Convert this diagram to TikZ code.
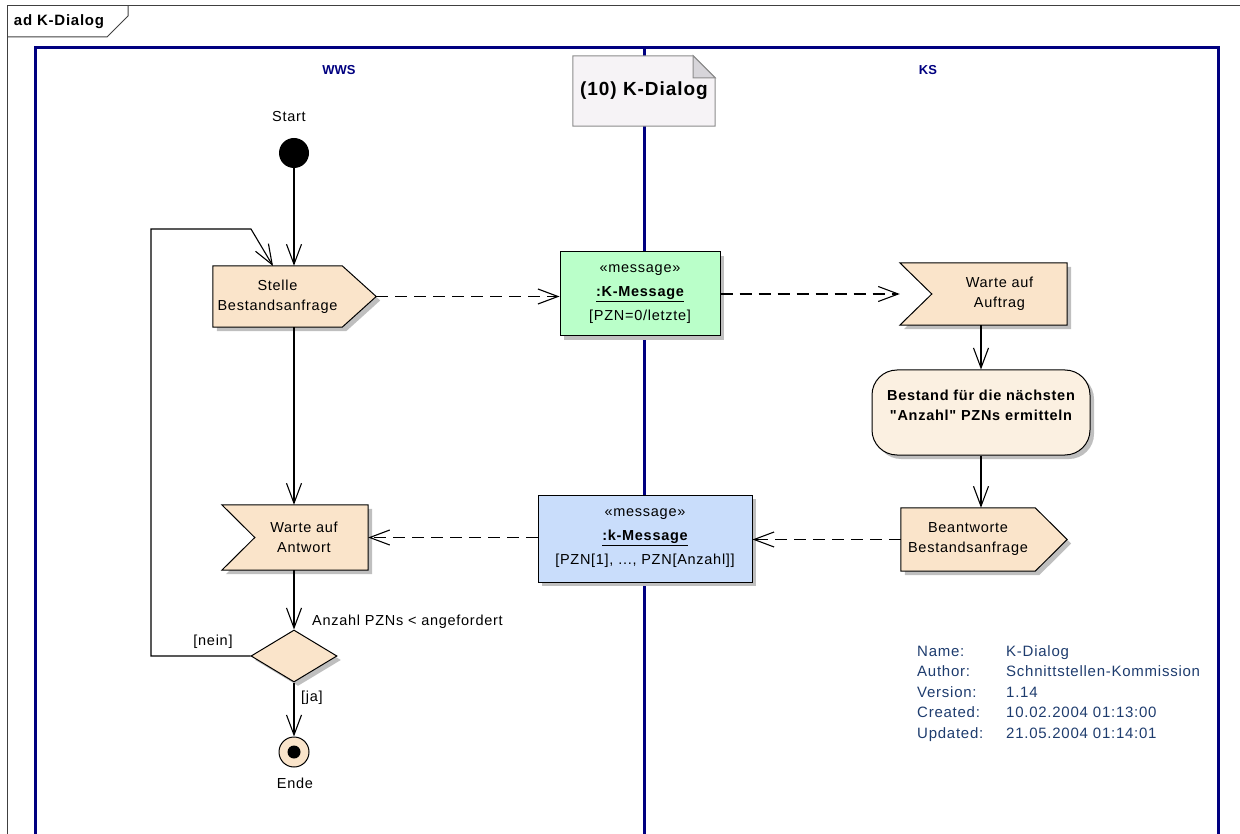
\documentclass[tikz,border=0pt]{standalone}
\usepackage{fontspec}
\setmainfont{Liberation Sans}
\newfontfamily\eafont[LetterSpace=5]{Liberation Sans}
\usetikzlibrary{arrows.meta,shadows,shapes.geometric}
\pgfdeclarelayer{lanes}
\pgfdeclarelayer{shapes}
\pgfsetlayers{lanes,shapes,main}
\definecolor{peach}{RGB}{250,228,202}
\definecolor{cream}{RGB}{251,240,225}
\definecolor{msggreen}{RGB}{186,255,201}
\definecolor{msgblue}{RGB}{201,221,251}
\definecolor{navy}{RGB}{0,0,128}
\definecolor{infoc}{RGB}{30,60,110}
\definecolor{notefill}{RGB}{246,243,246}
\definecolor{notefold}{RGB}{215,213,218}
\begin{document}
\begin{tikzpicture}[x=1pt,y=-1pt,
  txt/.style={font={\eafont\fontsize{14.5}{20}\selectfont}, align=center, inner sep=0pt},
  flow/.style={line width=1.1pt, -{Straight Barb[length=20pt,width=15pt]}},
  msgflow/.style={flow, dash pattern=on 12pt off 7pt},
  shd/.style={drop shadow={shadow xshift=4pt, shadow yshift=-4pt, fill=black!25, opacity=1}},
  actshape/.style={draw=black, line width=1pt, fill=peach, shd},
  msgbox/.style={txt, draw=black, line width=1pt, shd, font={\eafont\fontsize{14.5}{24}\selectfont}},
  lane/.style={draw=navy, line width=3pt},
  frame/.style={draw=black!75, line width=1pt},
  lanelbl/.style={font={\bfseries\fontsize{13}{13}\selectfont}, text=navy, inner sep=0pt}]
\useasboundingbox (0,0) rectangle (1240,834);

% outer frame
\draw[frame] (7,834) -- (7,6) -- (1240,6);
\draw[frame] (7,37) -- (107,37) -- (128,16) -- (128,6);
\node[font={\eafont\bfseries\fontsize{15}{15}\selectfont}, inner sep=0pt] (frametitle) at (59,22) {ad K-Dialog};

% swimlanes
\begin{pgfonlayer}{lanes}
\draw[lane] (35,834) -- (35,48) -- (1218,48) -- (1218,834);
\draw[lane] (644,48) -- (644,834);
\end{pgfonlayer}
\node[lanelbl] (wws) at (339,70) {WWS};
\node[lanelbl] (ks) at (928,70) {KS};

% note
\node[font={\eafont\bfseries\fontsize{19}{19}\selectfont}, inner sep=0pt, minimum width=142pt, minimum height=70pt] (note) at (644,91) {(10) K-Dialog};
\begin{pgfonlayer}{shapes}
\draw[draw=black!45, line width=1pt, fill=notefill] (note.north west) -- ([xshift=-22pt]note.north east) -- ([yshift=-22pt]note.north east) -- (note.south east) -- (note.south west) -- cycle;
\draw[draw=black!45, line width=1pt, fill=notefold] ([xshift=-22pt]note.north east) -- ([xshift=-22pt,yshift=-22pt]note.north east) -- ([yshift=-22pt]note.north east) -- cycle;
\end{pgfonlayer}

% start
\node[txt] (startlbl) at (289,117) {Start};
\node[circle, fill=black, minimum size=30pt, inner sep=0pt] (start) at (294,153) {};

% Stelle Bestandsanfrage (send signal)
\node[txt, minimum width=129pt, minimum height=61pt] (stelle) at (277.5,296.5) {Stelle\\Bestandsanfrage};
\begin{pgfonlayer}{shapes}
\draw[actshape] (stelle.north west) -- (stelle.north east) -- ([xshift=34pt]stelle.east) -- (stelle.south east) -- (stelle.south west) -- cycle;
\end{pgfonlayer}

% K-Message
\node[msgbox, fill=msggreen, minimum width=160pt, minimum height=84pt] (kmsg) at (640,294) {«message»\\\textbf{\underline{:K-Message}}\\{[PZN=0/letzte]}};

% Warte auf Auftrag (accept event)
\node[txt, minimum width=135pt, minimum height=62pt] (wa) at (999.5,294) {Warte auf\\Auftrag};
\begin{pgfonlayer}{shapes}
\draw[actshape] (wa.west) -- ([xshift=-32pt]wa.north west) -- (wa.north east) -- (wa.south east) -- ([xshift=-32pt]wa.south west) -- cycle;
\end{pgfonlayer}

% Bestand ermitteln
\node[txt, font={\eafont\bfseries\fontsize{14.5}{20}\selectfont}, draw=black, line width=1pt, fill=cream, rounded corners=25pt, shd, minimum width=218pt, minimum height=85pt] (best) at (981,412.5) {Bestand für die nächsten\\"Anzahl" PZNs ermitteln\\[-12pt] \strut};

% Beantworte Bestandsanfrage (send signal)
\node[txt, minimum width=134pt, minimum height=63pt] (bea) at (968,539.5) {Beantworte\\Bestandsanfrage};
\begin{pgfonlayer}{shapes}
\draw[actshape] (bea.north west) -- (bea.north east) -- ([xshift=32pt]bea.east) -- (bea.south east) -- (bea.south west) -- cycle;
\end{pgfonlayer}

% k-Message
\node[msgbox, fill=msgblue, minimum width=214pt, minimum height=87pt] (bmsg) at (645,538.5) {«message»\\\textbf{\underline{:k-Message}}\\{[PZN[1], ..., PZN[Anzahl]]}};

% Warte auf Antwort (accept event)
\node[txt, minimum width=128pt, minimum height=65pt] (wt) at (304,537.5) {Warte auf\\Antwort};
\begin{pgfonlayer}{shapes}
\draw[actshape] ([xshift=15pt]wt.west) -- ([xshift=-18pt]wt.north west) -- (wt.north east) -- (wt.south east) -- ([xshift=-18pt]wt.south west) -- cycle;
\end{pgfonlayer}

% decision
\node[diamond, draw=black, line width=1pt, fill=peach, shd, minimum width=86pt, minimum height=52pt, inner sep=0pt] (dec) at (294,656) {};
\node[txt, anchor=west] (declbl) at (312,622) {Anzahl PZNs < angefordert};
\node[txt] (nein) at (213,642) {[nein]};
\node[txt] (ja) at (312,698) {[ja]};

% end
\node[circle, draw=black, line width=1pt, fill=peach, minimum size=30pt, inner sep=0pt] (ende) at (294,752) {};
\fill[black] (ende.center) circle (6.5pt);
\node[txt] (endelbl) at (295,783) {Ende};

% connectors
\coordinate (loopin) at (273,266);
\draw[flow] (start) -- (start |- stelle.north);
\draw[flow] (dec.west) -| (151,229) -- (251,229) -- (loopin);
\draw[msgflow] ([xshift=34pt]stelle.east) -- (kmsg.west |- stelle.east);
\draw[msgflow] (kmsg.east |- wa.west) -- ([xshift=-32pt]wa.west);
\draw[flow] (best.north |- wa.south) -- (best.north);
\draw[flow] (best.south) -- (best.south |- bea.north);
\draw[msgflow] (bea.west) -- (bmsg.east |- bea.west);
\draw[msgflow] (bmsg.west |- wt.east) -- (wt.east);
\draw[flow] (stelle.south -| start) -- (wt.north -| start);
\draw[flow] (wt.south -| start) -- (dec.north);
\draw[flow] (dec.south) -- (ende);

% info block
\node[anchor=north west, inner sep=0pt, text=infoc, align=left, font={\eafont\fontsize{15}{20.5}\selectfont}] (info) at (917,645) {\makebox[89pt][l]{Name:}K-Dialog\\
\makebox[89pt][l]{Author:}Schnittstellen-Kommission\\
\makebox[89pt][l]{Version:}1.14\\
\makebox[89pt][l]{Created:}10.02.2004 01:13:00\\
\makebox[89pt][l]{Updated:}21.05.2004 01:14:01};
\end{tikzpicture}
\end{document}
